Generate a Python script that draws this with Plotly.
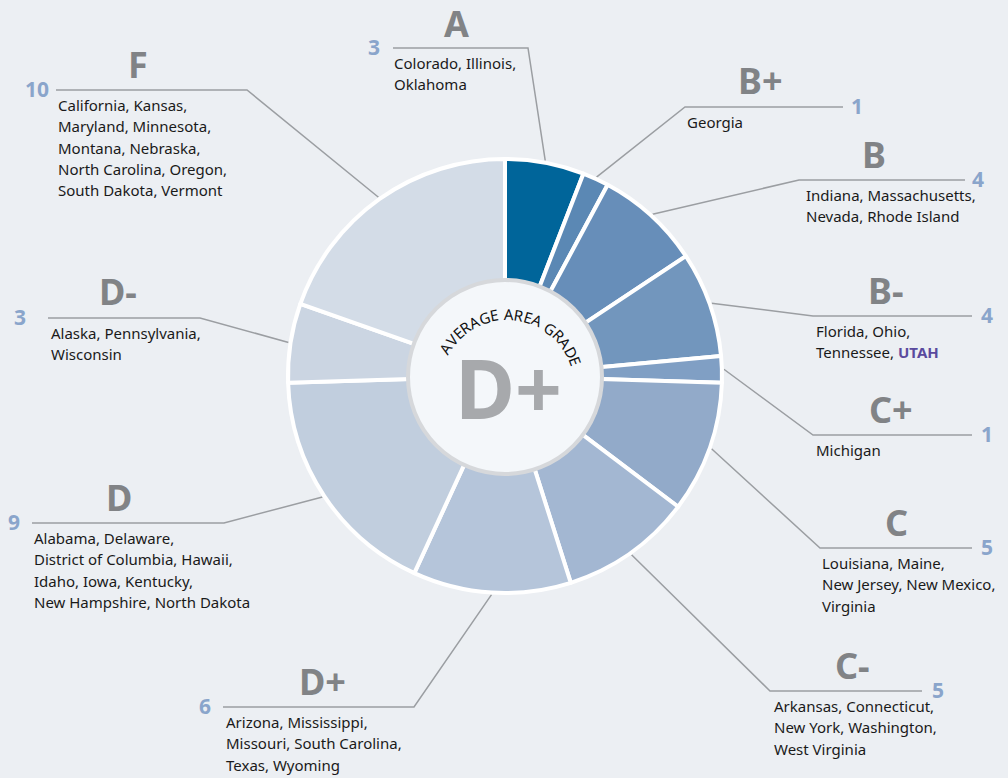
import math
import plotly.graph_objects as go

# ---------------- data ----------------
grades = ["A", "B+", "B", "B-", "C+", "C", "C-", "D+", "D", "D-", "F"]
counts = [3, 1, 4, 4, 1, 5, 5, 6, 9, 3, 10]
states = [
    ["Colorado, Illinois,", "Oklahoma"],
    ["Georgia"],
    ["Indiana, Massachusetts,", "Nevada, Rhode Island"],
    ["Florida, Ohio,", "Tennessee, UTAH"],
    ["Michigan"],
    ["Louisiana, Maine,", "New Jersey, New Mexico,", "Virginia"],
    ["Arkansas, Connecticut,", "New York, Washington,", "West Virginia"],
    ["Arizona, Mississippi,", "Missouri, South Carolina,", "Texas, Wyoming"],
    ["Alabama, Delaware,", "District of Columbia, Hawaii,",
     "Idaho, Iowa, Kentucky,", "New Hampshire, North Dakota"],
    ["Alaska, Pennsylvania,", "Wisconsin"],
    ["California, Kansas,", "Maryland, Minnesota,", "Montana, Nebraska,",
     "North Carolina, Oregon,", "South Dakota, Vermont"],
]
highlight_state = "UTAH"
average_grade = "D+"
center_title = "AVERAGE AREA GRADE"

# ---------------- styles ----------------
slice_colors = ["#00659a", "#5b88b4", "#678eb9", "#7296bd", "#809fc4", "#92aac9",
                "#a3b7d2", "#b5c5da", "#c1cede", "#cbd5e2", "#d3dce7"]
BG = "#eceff3"
GRADE_COLOR = "#818386"
COUNT_COLOR = "#8aa5cb"
LINE_COLOR = "#9b9ea2"
UTAH_COLOR = "#5a4a9e"
FONT = "Noto Sans"

W, H = 1008, 778
CX, CY, R = 505, 376, 217  # donut centre / radius in pixels
HOLE_R = 97

def px(x):
    return x / W

def py(y):
    return 1 - y / H

# label placement: knee_x, line_y, far_x, grade_x, grade_y, text_x, count_x
label_pos = [
    (528, 48, 393, 456, 24, 392, 374),
    (685, 107, 843, 760, 81, 685, 857),
    (799, 180, 965, 874, 154, 804, 978),
    (813, 316, 972, 885, 290, 814, 987),
    (813, 435, 972, 891, 409, 814, 987),
    (820, 548, 972, 896, 522, 820, 987),
    (770, 691, 922, 852, 665, 772, 938),
    (414, 707, 223, 322, 681, 224, 205),
    (224, 523, 32, 119, 497, 32, 14),
    (200, 318, 48, 118, 292, 49, 20),
    (247, 90, 56, 138, 64, 56, 37),
]

fig = go.Figure()
fig.add_trace(go.Pie(
    labels=grades, values=counts, sort=False, direction="clockwise", rotation=0,
    hole=0.40, textinfo="none", hoverinfo="skip", showlegend=False,
    marker=dict(colors=slice_colors, line=dict(color="white", width=4)),
    domain=dict(x=[px(CX - R), px(CX + R)], y=[py(CY + R), py(CY - R)]),
))

shapes = []
annotations = []
total = sum(counts)
cum = 0
for i, g in enumerate(grades):
    mid = (cum + counts[i] / 2) / total * 2 * math.pi
    cum += counts[i]
    sx = CX + (R + 2) * math.sin(mid)
    sy = CY - (R + 2) * math.cos(mid)
    kx, ly, fx, gx, gy, tx, cx_ = label_pos[i]
    shapes.append(dict(
        type="path", xref="paper", yref="paper", layer="below",
        path=f"M {px(sx)} {py(sy)} L {px(kx)} {py(ly)} L {px(fx)} {py(ly)}",
        line=dict(color=LINE_COLOR, width=1.5),
    ))
    annotations.append(dict(
        x=px(gx), y=py(gy), xref="paper", yref="paper", text=f"<b>{g}</b>",
        showarrow=False, xanchor="center", yanchor="middle", borderpad=0,
        font=dict(family=FONT, size=36, color=GRADE_COLOR),
    ))
    annotations.append(dict(
        x=px(cx_), y=py(ly - 1), xref="paper", yref="paper", text=f"<b>{counts[i]}</b>",
        showarrow=False, xanchor="center", yanchor="middle",
        font=dict(family=FONT, size=21, color=COUNT_COLOR),
    ))
    for j, line in enumerate(states[i]):
        txt = line.replace(
            highlight_state,
            f"<b><span style='color:{UTAH_COLOR}'>{highlight_state}</span></b>")
        annotations.append(dict(
            x=px(tx), y=py(ly + 15 + j * 21.3), xref="paper", yref="paper", text=txt,
            showarrow=False, xanchor="left", yanchor="middle",
            font=dict(family=FONT, size=15, color="#1a1a1a"),
        ))

# inner white disc
shapes.append(dict(
    type="circle", xref="paper", yref="paper", layer="above",
    x0=px(CX - HOLE_R), x1=px(CX + HOLE_R), y0=py(CY + 1 + HOLE_R), y1=py(CY + 1 - HOLE_R),
    fillcolor="#f4f7fa", line=dict(color="#d6d8db", width=4),
))

# centre grade
annotations.append(dict(
    x=px(CX + 3), y=py(CY + 11), xref="paper", yref="paper", text=f"<b>{average_grade}</b>",
    showarrow=False, xanchor="center", yanchor="middle",
    font=dict(family=FONT, size=82, color="#a7a9ac"),
))

# arched title
widths = {"A": 0.68, "V": 0.64, "E": 0.56, "R": 0.63, "G": 0.70, "D": 0.72, " ": 0.30}
ACX, ACY, AR = 507, 387, 73
a_start, a_end = 151.7, 17.2
ws = [widths.get(c, 0.6) + 0.08 for c in center_title]
tot_w = sum(ws)
acc = 0
for c, w in zip(center_title, ws):
    frac = (acc + w / 2) / tot_w
    acc += w
    if c == " ":
        continue
    ang = a_start + (a_end - a_start) * frac
    ax_ = ACX + AR * math.cos(math.radians(ang))
    ay_ = ACY - AR * math.sin(math.radians(ang))
    annotations.append(dict(
        x=px(ax_), y=py(ay_), xref="paper", yref="paper", text=c,
        showarrow=False, xanchor="center", yanchor="middle", textangle=90 - ang,
        font=dict(family=FONT, size=15, color="#111111"),
    ))

fig.update_layout(
    width=W, height=H, margin=dict(l=0, r=0, t=0, b=0),
    paper_bgcolor=BG, plot_bgcolor=BG,
    shapes=shapes, annotations=annotations, showlegend=False,
)
fig.write_html("out.html", config={"displayModeBar": False},
               post_script="document.body.style.margin='0';document.body.style.overflow='hidden';")
